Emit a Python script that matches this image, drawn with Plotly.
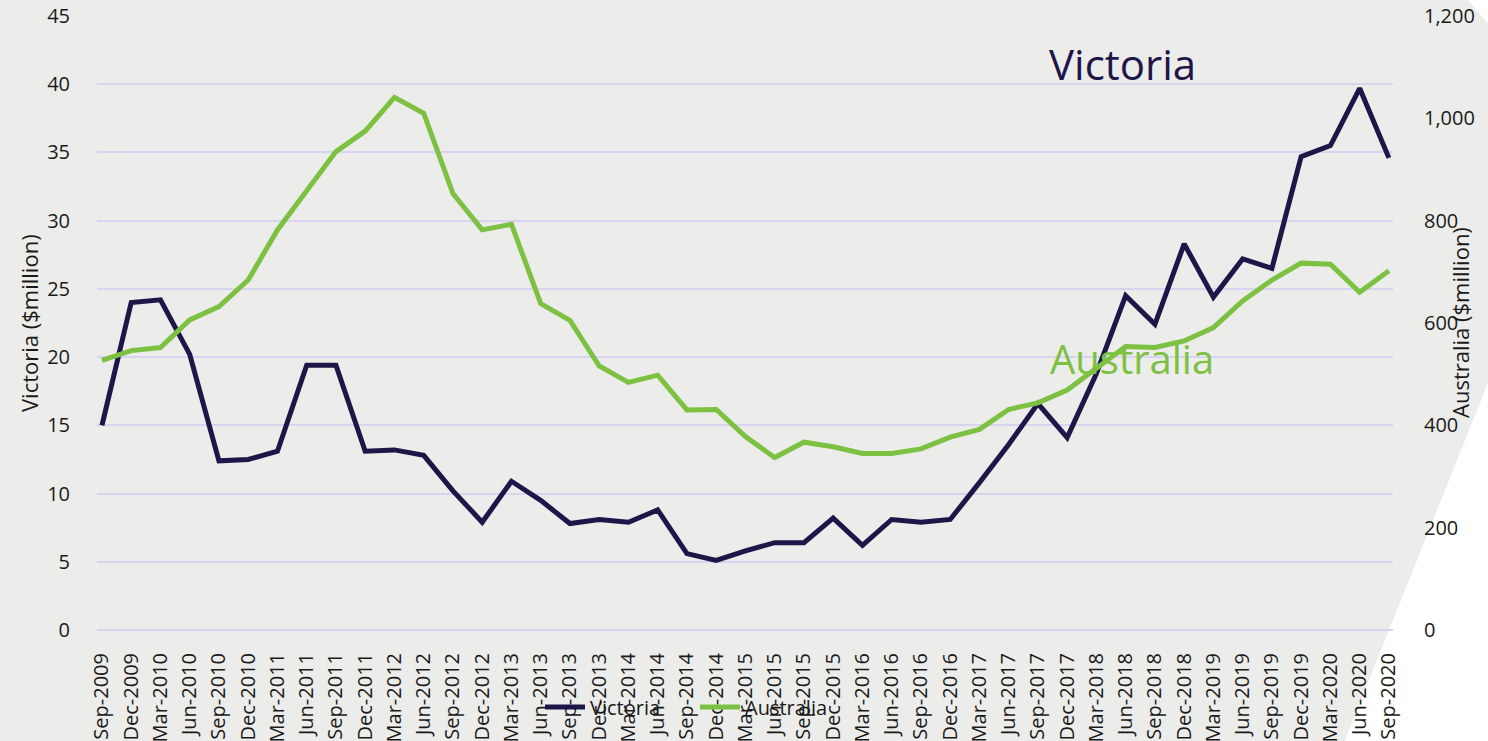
import plotly.graph_objects as go

quarters = ["Sep-2009", "Dec-2009", "Mar-2010", "Jun-2010", "Sep-2010", "Dec-2010",
            "Mar-2011", "Jun-2011", "Sep-2011", "Dec-2011", "Mar-2012", "Jun-2012",
            "Sep-2012", "Dec-2012", "Mar-2013", "Jun-2013", "Sep-2013", "Dec-2013",
            "Mar-2014", "Jun-2014", "Sep-2014", "Dec-2014", "Mar-2015", "Jun-2015",
            "Sep-2015", "Dec-2015", "Mar-2016", "Jun-2016", "Sep-2016", "Dec-2016",
            "Mar-2017", "Jun-2017", "Sep-2017", "Dec-2017", "Mar-2018", "Jun-2018",
            "Sep-2018", "Dec-2018", "Mar-2019", "Jun-2019", "Sep-2019", "Dec-2019",
            "Mar-2020", "Jun-2020", "Sep-2020"]

victoria = [15.0, 24.0, 24.2, 20.2, 12.4, 12.5, 13.1, 19.4, 19.4, 13.1, 13.2, 12.8,
            10.2, 7.9, 10.9, 9.5, 7.8, 8.1, 7.9, 8.8, 5.6, 5.1, 5.8, 6.4,
            6.4, 8.2, 6.2, 8.1, 7.9, 8.1, 10.8, 13.6, 16.6, 14.1, 18.8, 24.5,
            22.4, 28.3, 24.4, 27.2, 26.5, 34.7, 35.5, 39.7, 34.6]

australia = [527, 546, 552, 606, 632, 684, 782, 858, 935, 975, 1041, 1010,
             853, 782, 793, 638, 605, 516, 484, 498, 430, 431, 378, 337,
             367, 358, 345, 345, 354, 377, 392, 431, 444, 469, 510, 554,
             552, 565, 591, 643, 684, 717, 715, 660, 702]

left_ticks = [0, 5, 10, 15, 20, 25, 30, 35, 40, 45]
right_ticks = [0, 200, 400, 600, 800, 1000, 1200]

NAVY = "#1e1648"
GREEN = "#7cc142"
BG = "#ececea"
GRID = "#d8d4f0"
FONT = "Open Sans"
TXT = "#1a1a1a"

idx = list(range(len(quarters)))

fig = go.Figure()
fig.add_trace(go.Scatter(x=idx, y=victoria, name="Victoria", mode="lines",
                         line=dict(color=NAVY, width=5), yaxis="y"))
fig.add_trace(go.Scatter(x=idx, y=australia, name="Australia", mode="lines",
                         line=dict(color=GREEN, width=5), yaxis="y2"))

W, H = 1488, 741
L, R, T, B = 97, 95, 16, 111
pw, ph = W - L - R, H - T - B

def px(x):
    return (x - L) / pw

def py(y):
    return (H - B - y) / ph

fig.update_layout(
    width=W, height=H,
    margin=dict(l=L, r=R, t=T, b=B, pad=0, autoexpand=False),
    paper_bgcolor=BG, plot_bgcolor=BG,
    font=dict(family=FONT, size=20, color=TXT),
    showlegend=True,
    legend=dict(orientation="h", x=px(540), y=py(707), xanchor="left", yanchor="middle",
                bgcolor="rgba(0,0,0,0)", font=dict(size=20, color=TXT), itemwidth=40,
                entrywidth=100, traceorder="normal"),
    xaxis=dict(range=[-0.17, 44.14], tickmode="array", tickvals=idx, ticktext=quarters,
               tickangle=-90, showgrid=False, zeroline=False, showline=False,
               ticks="outside", ticklen=14, tickcolor="rgba(0,0,0,0)",
               tickfont=dict(size=20, color=TXT), automargin=False),
    yaxis=dict(range=[0, 45], tickmode="array", tickvals=left_ticks,
               showgrid=True, gridcolor=GRID, gridwidth=2,
               zeroline=True, zerolinecolor=GRID, zerolinewidth=2, showline=False,
               ticks="outside", ticklen=22, tickcolor="rgba(0,0,0,0)",
               tickfont=dict(size=20, color=TXT), automargin=False),
    yaxis2=dict(range=[0, 1200], tickmode="array", tickvals=right_ticks, tickformat=",",
                overlaying="y", side="right", showgrid=False, zeroline=False, showline=False,
                ticks="outside", ticklen=26, tickcolor="rgba(0,0,0,0)",
                tickfont=dict(size=20, color=TXT), automargin=False),
    shapes=[
        dict(type="path", xref="paper", yref="paper", layer="below",
             path=f"M {px(1343)} {py(745)} L {px(1490)} {py(378)} L {px(1490)} {py(745)} Z",
             fillcolor="white", line=dict(width=0)),
        dict(type="path", xref="paper", yref="paper", layer="below",
             path=f"M {px(1466)} {py(-2)} L {px(1490)} {py(-2)} L {px(1490)} {py(26)} Z",
             fillcolor="white", line=dict(width=0)),
    ],
    annotations=[
        dict(text="Victoria", xref="paper", yref="paper", x=px(1122), y=py(63),
             xanchor="center", yanchor="middle", showarrow=False,
             font=dict(size=42, color=NAVY, family=FONT)),
        dict(text="Australia", xref="paper", yref="paper", x=px(1132), y=py(358),
             xanchor="center", yanchor="middle", showarrow=False,
             font=dict(size=40, color=GREEN, family=FONT)),
        dict(text="Victoria ($million)", xref="paper", yref="paper", x=px(29), y=py(323),
             xanchor="center", yanchor="middle", showarrow=False, textangle=-90,
             font=dict(size=22, color=TXT, family=FONT)),
        dict(text="Australia ($million)", xref="paper", yref="paper", x=px(1460), y=py(323),
             xanchor="center", yanchor="middle", showarrow=False, textangle=-90,
             font=dict(size=22, color=TXT, family=FONT)),
    ],
)

fig.write_html("out.html", config={"displayModeBar": False},
               post_script="document.body.style.margin='0';document.body.style.background='%s';" % BG)
